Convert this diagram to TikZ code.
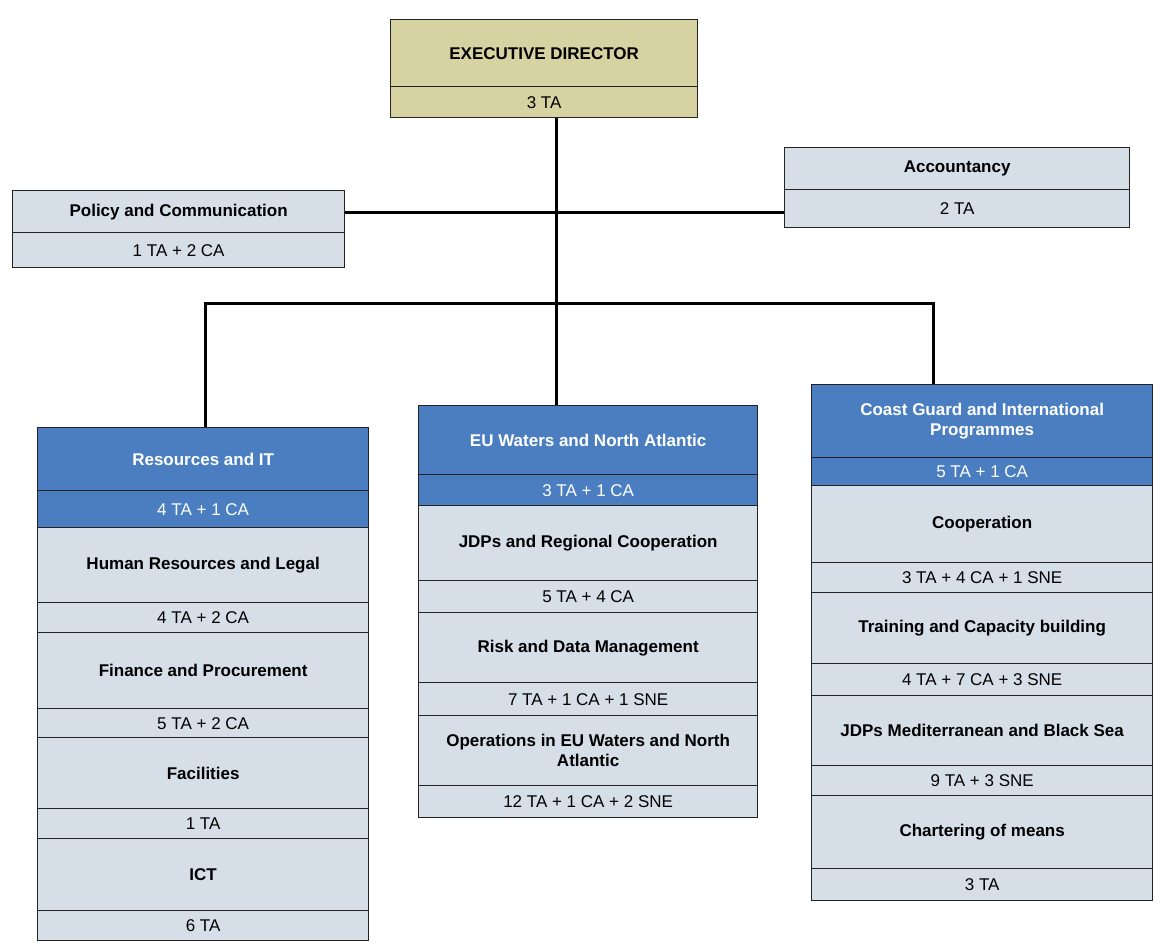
\documentclass[tikz,border=0pt]{standalone}
\usepackage{fontspec}
\setmainfont{Liberation Sans}
\definecolor{edfill}{RGB}{214,210,162}
\definecolor{hdfill}{RGB}{74,126,193}
\definecolor{cellfill}{RGB}{214,222,232}
\definecolor{edgecol}{RGB}{35,35,35}
\newcommand{\cellnode}[7]{%
  \node[#2, anchor=north west, minimum width={#5-#3}, minimum height={#6-#4}] (#1) at (#3,#4) {#7};}
\tikzset{
  cell/.style={draw=edgecol, line width=1.3pt, fill=cellfill, align=center, inner sep=2pt,
    font=\fontsize{17}{20.5}\selectfont, text=black},
  titlecell/.style={cell, font=\fontsize{17}{20.5}\selectfont\bfseries},
  edcell/.style={cell, fill=edfill},
  edtitle/.style={titlecell, fill=edfill},
  headcell/.style={cell, fill=hdfill, text=white, font=\fontsize{17}{20.5}\selectfont\bfseries},
  headstaff/.style={cell, fill=hdfill, text=white},
  conn/.style={draw=black, line width=3pt}
}
\begin{document}
\begin{tikzpicture}[x=1pt,y=-1pt]
\useasboundingbox (0,0) rectangle (1169,947);
\fill[white] (0,0) rectangle (1169,947);

% top level
\cellnode{ed}{edtitle}{390}{19}{697}{86}{EXECUTIVE DIRECTOR}
\cellnode{eds}{edcell}{390}{86}{697}{117}{3 TA}
\cellnode{pol}{titlecell}{12}{190}{344}{232}{Policy and Communication}
\cellnode{pols}{cell}{12}{232}{344}{267}{1 TA + 2 CA}
\cellnode{acc}{titlecell}{784}{147}{1129}{189}{Accountancy}
\cellnode{accs}{cell}{784}{189}{1129}{227}{2 TA}

% left column
\cellnode{lh}{headcell}{37}{427}{368}{490}{Resources and IT}
\cellnode{ls}{headstaff}{37}{490}{368}{527}{4 TA + 1 CA}
\cellnode{l1}{titlecell}{37}{527}{368}{602}{Human Resources and Legal}
\cellnode{l1s}{cell}{37}{602}{368}{632}{4 TA + 2 CA}
\cellnode{l2}{titlecell}{37}{632}{368}{708}{Finance and Procurement}
\cellnode{l2s}{cell}{37}{708}{368}{737}{5 TA + 2 CA}
\cellnode{l3}{titlecell}{37}{737}{368}{808}{Facilities}
\cellnode{l3s}{cell}{37}{808}{368}{838}{1 TA}
\cellnode{l4}{titlecell}{37}{838}{368}{910}{ICT}
\cellnode{l4s}{cell}{37}{910}{368}{940}{6 TA}

% middle column
\cellnode{mh}{headcell}{418}{405}{757}{474}{EU Waters and North Atlantic}
\cellnode{ms}{headstaff}{418}{474}{757}{505}{3 TA + 1 CA}
\cellnode{m1}{titlecell}{418}{505}{757}{580}{JDPs and Regional Cooperation}
\cellnode{m1s}{cell}{418}{580}{757}{612}{5 TA + 4 CA}
\cellnode{m2}{titlecell}{418}{612}{757}{682}{Risk and Data Management}
\cellnode{m2s}{cell}{418}{682}{757}{715}{7 TA + 1 CA + 1 SNE}
\cellnode{m3}{titlecell}{418}{715}{757}{785}{Operations in EU Waters and North\\Atlantic}
\cellnode{m3s}{cell}{418}{785}{757}{817}{12 TA + 1 CA + 2 SNE}

% right column
\cellnode{rh}{headcell}{811}{384}{1152}{457}{Coast Guard and International\\Programmes}
\cellnode{rs}{headstaff}{811}{457}{1152}{485}{5 TA + 1 CA}
\cellnode{r1}{titlecell}{811}{485}{1152}{562}{Cooperation}
\cellnode{r1s}{cell}{811}{562}{1152}{592}{3 TA + 4 CA + 1 SNE}
\cellnode{r2}{titlecell}{811}{592}{1152}{663}{Training and Capacity building}
\cellnode{r2s}{cell}{811}{663}{1152}{695}{4 TA + 7 CA + 3 SNE}
\cellnode{r3}{titlecell}{811}{695}{1152}{765}{JDPs Mediterranean and Black Sea}
\cellnode{r3s}{cell}{811}{765}{1152}{795}{9 TA + 3 SNE}
\cellnode{r4}{titlecell}{811}{795}{1152}{868}{Chartering of means}
\cellnode{r4s}{cell}{811}{868}{1152}{900}{3 TA}

% connectors
\coordinate (trunk) at (556,0);
\coordinate (side) at (0,212);
\coordinate (dl) at (205,303);
\coordinate (dr) at (933,303);
\draw[conn] (eds.south -| trunk) -- (mh.north -| trunk);
\draw[conn] (pols.east |- side) -- (accs.west |- side);
\draw[conn] (lh.north -| dl) -- (dl) -- (dr) -- (rh.north -| dr);
\end{tikzpicture}
\end{document}
